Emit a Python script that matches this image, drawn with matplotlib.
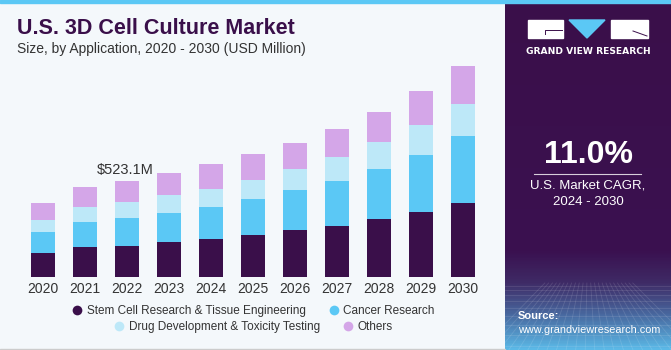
import numpy as np
import matplotlib.pyplot as plt
from matplotlib.patches import Rectangle, Polygon
from matplotlib.lines import Line2D
from matplotlib.colors import LinearSegmentedColormap

# values (USD Million)
years = ['2020', '2021', '2022', '2023', '2024', '2025', '2026', '2027', '2028', '2029', '2030']
stem_cell = [131, 162, 169, 190, 206, 226, 254, 279, 315, 355, 403]
cancer = [115, 137, 151, 159, 175, 198, 220, 244, 275, 310, 366]
drug_dev = [66, 82, 86, 95, 100, 106, 117, 130, 146, 162, 175]
others = [89, 111, 117, 124, 133, 140, 142, 156, 166, 188, 209]

series_names = ['Stem Cell Research & Tissue Engineering', 'Cancer Research',
                'Drug Development & Toxicity Testing', 'Others']
colors = ['#3A0F4A', '#5BC8F5', '#BDE8F8', '#D4A6E8']

label_year = 2
label_text = '$523.1M'

W, H = 671, 350
fig = plt.figure(figsize=(W / 100, H / 100), dpi=100)
fig.patch.set_facecolor('#F4F8FB')

def fx(px):
    return px / W

def fy(py):
    return 1 - py / H

# top strip and bottom border
fig.patches.append(Rectangle((0, fy(2.5)), 1, 2.5 / H, transform=fig.transFigure,
                             color='#5BC8F5', zorder=0))
fig.patches.append(Rectangle((0, 0), fx(505), 1.5 / H, transform=fig.transFigure,
                             color='#CCCCCC', zorder=0))

# main chart
ax = fig.add_axes([fx(22), fy(276.7), fx(462), (276.7 - 48) / H])
ax.set_facecolor('none')
x = np.arange(len(years))
bottom = np.zeros(len(years))
for vals, c in zip([stem_cell, cancer, drug_dev, others], colors):
    ax.bar(x, vals, width=0.57, bottom=bottom, color=c, edgecolor='none', zorder=2)
    bottom += np.array(vals)
ax.set_xlim(-0.5, len(years) - 0.5)
ax.set_ylim(0, 1250)
ax.set_yticks([])
ax.set_xticks(x)
ax.set_xticklabels(years, fontsize=10, color='#333333', family='Liberation Sans')
ax.tick_params(axis='x', length=0, pad=4)
for s in ax.spines.values():
    s.set_visible(False)

ax.text(x[label_year] - 0.05, bottom[label_year] + 22, label_text, ha='center', va='bottom',
        fontsize=10.5, color='#333333', family='Liberation Sans')

# titles
fig.text(fx(17), fy(28.5), 'U.S. 3D Cell Culture Market', fontsize=15.5, fontweight='bold',
         color='#3A0F4A', va='center', ha='left', family='Liberation Sans')
fig.text(fx(17), fy(49), 'Size, by Application, 2020 - 2030 (USD Million)', fontsize=10,
         color='#333333', va='center', ha='left', family='Liberation Sans')

# legend, two centred rows
def legend_row(idx, ypx):
    handles = [Line2D([], [], marker='o', linestyle='none', markersize=7,
                      markerfacecolor=colors[i], markeredgecolor='none') for i in idx]
    fig.legend(handles, [series_names[i] for i in idx], ncol=2, loc='center',
               bbox_to_anchor=(fx(253), fy(ypx)), frameon=False, handletextpad=0.3,
               columnspacing=1.9, prop={'family': 'Liberation Sans', 'size': 8.5},
               labelcolor='#333333', handlelength=1.0, borderaxespad=0)

legend_row([0, 1], 311)
legend_row([2, 3], 327)

# right panel
pan = fig.add_axes([fx(505), 0, fx(166), 1])
pan.set_xlim(505, 671)
pan.set_ylim(350, 0)
pan.axis('off')
cmap = LinearSegmentedColormap.from_list('p', [(0, '#3A0F4A'), (0.72, '#3A1150'),
                                               (0.81, '#3F2B66'), (0.9, '#48679E'),
                                               (1.0, '#5BB8E6')])
grad = np.linspace(0, 1, 350).reshape(-1, 1)
pan.imshow(grad, cmap=cmap, extent=[505, 671, 350, 0], aspect='auto', zorder=0)

# faint grid in the bottom part
for gx in np.linspace(480, 700, 24):
    pan.plot([588 + (gx - 588) * 0.4, gx], [283, 350], color='white', alpha=0.12, lw=0.6)
for gy in [286, 290, 295, 301, 308, 316, 325, 335, 346]:
    pan.plot([505, 671], [gy, gy], color='white', alpha=0.12, lw=0.6)

# logo
pan.add_patch(Rectangle((528, 20), 35, 18, color='white', zorder=3))
pan.add_patch(Rectangle((611, 20), 37, 18, color='white', zorder=3))
pan.add_patch(Polygon([[569, 20], [605, 20], [587, 38]], closed=True, color='#5BC8F5', zorder=3))
pan.plot([545, 545, 562], [34, 30, 30], color='#3A0F4A', lw=0.7, zorder=4)
pan.plot([633, 647], [31, 36], color='#3A0F4A', lw=0.7, zorder=4)
pan.text(588, 51, 'GRAND VIEW RESEARCH', color='white', fontsize=6.6, fontweight='bold',
         ha='center', va='center', family='DejaVu Sans')

pan.text(588, 155, '11.0%', color='white', fontsize=23, fontweight='bold',
         ha='center', va='center', family='Liberation Sans')
pan.plot([534, 641], [173.5, 173.5], color='white', lw=0.8, alpha=0.8)
pan.text(588, 186, 'U.S. Market CAGR,', color='white', fontsize=9.5,
         ha='center', va='center', family='Liberation Sans')
pan.text(588, 202, '2024 - 2030', color='white', fontsize=9.5,
         ha='center', va='center', family='Liberation Sans')
pan.text(518, 316, 'Source:', color='white', fontsize=8, fontweight='bold',
         ha='left', va='center', family='Liberation Sans')
pan.text(518, 330, 'www.grandviewresearch.com', color='white', fontsize=7.8,
         ha='left', va='center', family='Liberation Sans')

fig.savefig('out.png', dpi=100, facecolor=fig.get_facecolor())
